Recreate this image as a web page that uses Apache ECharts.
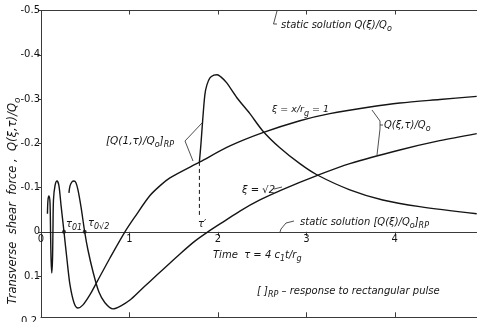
<!DOCTYPE html>
<html><head><meta charset="utf-8">
<script src="https://cdn.jsdelivr.net/npm/echarts@6/dist/echarts.min.js"></script>
<style>html,body{margin:0;padding:0;background:#fff}#c{width:477px;height:322px}</style>
</head><body><div id="c"></div>
<script>
// ---- data (tau, Q/Q0) ----
const xiOne = [[0.073,-0.041],[0.079,-0.072],[0.090,-0.081],[0.102,-0.065],[0.108,0],[0.114,0.063],[0.122,0.093],[0.130,0.063],[0.135,0],[0.141,-0.072],[0.158,-0.104],[0.181,-0.115],[0.203,-0.104],[0.226,-0.061],[0.260,0],[0.294,0.063],[0.328,0.120],[0.373,0.160],[0.418,0.172],[0.475,0.165],[0.554,0.142],[0.633,0.113],[0.780,0.059],[0.949,0],[1.062,-0.034],[1.232,-0.082],[1.345,-0.104],[1.458,-0.122],[1.797,-0.158],[2.136,-0.194],[2.508,-0.224],[2.927,-0.251],[3.266,-0.267],[3.718,-0.282],[4.057,-0.291],[4.509,-0.299],[4.927,-0.306]];
const xiRoot2 = [[0.316,-0.088],[0.328,-0.104],[0.350,-0.113],[0.373,-0.115],[0.395,-0.111],[0.418,-0.095],[0.452,-0.057],[0.494,0],[0.531,0.041],[0.588,0.090],[0.655,0.136],[0.723,0.160],[0.814,0.174],[0.904,0.167],[1.006,0.154],[1.119,0.133],[1.232,0.112],[1.401,0.081],[1.571,0.050],[1.740,0.021],[1.887,0],[2.079,-0.025],[2.249,-0.047],[2.475,-0.072],[2.723,-0.095],[3.119,-0.127],[3.492,-0.154],[4.056,-0.185],[4.508,-0.206],[4.927,-0.222]];
const rectPulse = [[1.791,-0.158],[1.808,-0.197],[1.827,-0.249],[1.853,-0.310],[1.876,-0.332],[1.910,-0.348],[1.955,-0.354],[1.992,-0.355],[2.034,-0.350],[2.098,-0.337],[2.215,-0.303],[2.362,-0.267],[2.508,-0.228],[2.701,-0.190],[2.927,-0.154],[3.119,-0.129],[3.492,-0.095],[3.864,-0.072],[4.282,-0.057],[4.927,-0.041]];
const zeroCrossings = [[0.260,0],[0.494,0]];
const tauPrime = 1.791;
const tauPrimeSpan = [-0.158,-0.035];
const xTickLabels = ['0','1','2','3','4'];
const yTickLabels = ['-0.5','-0.4','-0.3','-0.2','-0.1','0','0.1','0.2'];

// ---- helpers ----
const FONT = 'DejaVu Sans';
const INK = '#151515';
const mctx = document.createElement('canvas').getContext('2d');
function tw(t, fs, it){ mctx.font = (it?'italic ':'') + fs + 'px "' + FONT + '"'; return mctx.measureText(t).width; }
function textRun(x, y, parts, fs, opts){
  opts = opts || {};
  const it = opts.italic !== false;
  let cx = 0; const kids = [];
  parts.forEach(p => {
    const t = Array.isArray(p) ? p[0] : p;
    const kind = Array.isArray(p) ? p[1] : 'n';
    const s = kind === 'sub' ? Math.round(fs*0.8) : fs;
    const dy = kind === 'sub' ? fs*0.38 : 0;
    kids.push({type:'text', x:cx, y:dy, silent:true, style:{text:t, fontSize:s, fontFamily:FONT, fontStyle: it?'italic':'normal', fill:INK, align:'left', verticalAlign:'middle'}});
    cx += tw(t, s, it);
  });
  if (opts.rotate) kids.forEach(k => k.x -= cx/2);
  if (opts.align === 'right') kids.forEach(k => k.x -= cx);
  const g = {type:'group', x:x, y:y, children:kids, silent:true};
  if (opts.rotate) g.rotation = opts.rotate;
  return g;
}
function poly(points){ return {type:'polyline', silent:true, shape:{points:points}, style:{stroke:'#222', lineWidth:0.8, fill:null}}; }

const xFmt = v => { const i = Math.round(v); return Math.abs(v-i) < 1e-6 ? (xTickLabels[i] || '') : ''; };
const yFmt = v => { const i = Math.round((v+0.5)/0.1); return Math.abs(v-(-0.5+i*0.1)) < 1e-6 ? (yTickLabels[i] || '') : ''; };

const axisColor = '#3a3a3a';
const X_MAX = 4.93, Y_MIN = -0.5, Y_MAX = 0.193;
const GRID_TOP = 10.5, GRID_BOTTOM = 4.7, H = 322;
const zeroY = GRID_TOP + (0 - Y_MIN) / (Y_MAX - Y_MIN) * (H - GRID_TOP - GRID_BOTTOM);
const lineSeries = (data, extra) => Object.assign({type:'line', data:data, showSymbol:false, smooth:0.3, xAxisIndex:0, yAxisIndex:0, lineStyle:{color:INK, width:1.4}, silent:true}, extra||{});

const chart = echarts.init(document.getElementById('c'));
chart.setOption({
  animation:false,
  backgroundColor:'#fff',
  grid:[
    {left:41, right:0, top:GRID_TOP, bottom:GRID_BOTTOM, containLabel:false, outerBoundsMode:'none'},
    {left:41, right:0, top:GRID_TOP, bottom:H - zeroY, containLabel:false, outerBoundsMode:'none'}
  ],
  xAxis:[
    {gridIndex:0, type:'value', min:0, max:X_MAX, interval:1, position:'bottom',
     axisLine:{onZero:false, lineStyle:{color:axisColor, width:1}},
     axisTick:{inside:true, length:5, lineStyle:{color:axisColor}},
     axisLabel:{show:false}, splitLine:{show:false}},
    {gridIndex:0, type:'value', min:0, max:X_MAX, interval:1, position:'top',
     axisLine:{onZero:false, lineStyle:{color:axisColor, width:1}},
     axisTick:{inside:true, length:4, lineStyle:{color:axisColor}},
     axisLabel:{show:false}, splitLine:{show:false}},
    {gridIndex:1, type:'value', min:0, max:X_MAX, interval:1, position:'bottom',
     axisLine:{onZero:false, lineStyle:{color:axisColor, width:1}},
     axisTick:{inside:false, length:4, lineStyle:{color:axisColor}},
     axisLabel:{margin:3, fontSize:10, fontFamily:FONT, color:INK, showMaxLabel:false, formatter:xFmt},
     splitLine:{show:false}}
  ],
  yAxis:[
    {gridIndex:0, type:'value', min:Y_MIN, max:Y_MAX, interval:0.1, inverse:true,
     axisLine:{show:true, onZero:false, lineStyle:{color:axisColor, width:1}},
     axisTick:{show:true, inside:false, length:3, lineStyle:{color:axisColor}},
     axisLabel:{margin:1, fontSize:10, fontFamily:FONT, color:INK, showMaxLabel:false, formatter:yFmt},
     splitLine:{show:false}},
    {gridIndex:1, type:'value', min:0, max:1, show:false}
  ],
  series:[
    lineSeries(xiOne),
    lineSeries(xiRoot2),
    lineSeries(rectPulse),
    {type:'line', data:[[tauPrime,tauPrimeSpan[0]],[tauPrime,tauPrimeSpan[1]]], showSymbol:false, silent:true, lineStyle:{color:INK, width:1, type:[4,3]}},
    {type:'scatter', data:zeroCrossings, symbolSize:4, itemStyle:{color:INK}, silent:true}
  ],
  graphic:{elements:[
    textRun(281, 25, ['static solution Q(ξ)/Q', ['o','sub']], 10),
    textRun(300, 222, ['static solution [Q(ξ)/Q', ['o','sub'], ']', ['RP','sub']], 10),
    textRun(213, 255, ['Time  τ = 4 c', ['1','sub'], 't/r', ['g','sub']], 10),
    textRun(257, 291, ['[ ]', ['RP','sub'], ' – response to rectangular pulse'], 10),
    textRun(272, 110, ['ξ = x/r', ['g','sub'], ' = 1'], 9.5),
    textRun(242, 190, ['ξ = √2'], 10),
    textRun(384, 125, ['Q(ξ,τ)/Q', ['o','sub']], 10),
    textRun(106, 141, ['[Q(1,τ)/Q', ['o','sub'], ']', ['RP','sub']], 10.5),
    textRun(66, 224, ['τ', ['01','sub']], 10),
    textRun(88, 223, ['τ', ['0√2','sub']], 10),
    textRun(198, 224, ['τ′'], 10),
    textRun(13, 201, ['Transverse  shear  force ,  Q(ξ,τ)/Q', ['o','sub']], 11.5, {rotate:Math.PI/2}),
    textRun(37, 321, ['0.2'], 10, {italic:false, align:'right'}),
    poly([[277,11],[273.5,24],[277,24]]),
    poly([[294,221],[286,223],[281,229],[280,232]]),
    poly([[202,123],[185,141],[193,161]]),
    poly([[372,110],[380,121],[380,129],[377,155]]),
    poly([[380,125],[383,125]]),
    poly([[274,189],[282,187]])
  ]}
});
</script></body></html>
